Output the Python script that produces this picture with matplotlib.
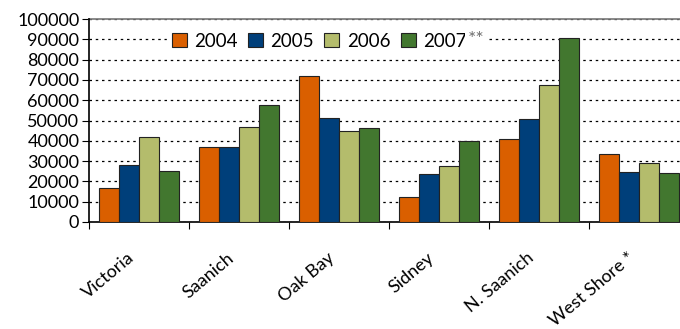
import numpy as np
import matplotlib
matplotlib.use("Agg")
import matplotlib.pyplot as plt
import matplotlib.transforms as mtransforms

plt.rcParams['font.family'] = ['Lato', 'DejaVu Sans']

places = ["Victoria", "Saanich", "Oak Bay", "Sidney", "N. Saanich", "West Shore *"]
years = ["2004", "2005", "2006", "2007"]
v2004 = [16600, 37000, 71800, 12200, 40900, 33500]
v2005 = [28100, 37000, 51100, 23600, 50700, 24600]
v2006 = [42000, 47000, 44800, 27600, 67700, 29200]
v2007 = [25000, 57800, 46500, 40100, 90800, 24300]
yticks = list(range(0, 100001, 10000))

colors = ["#DA5F00", "#003F7A", "#B4BC6C", "#42772F"]

fig = plt.figure(figsize=(6.8, 3.29), dpi=100)
ax = fig.add_axes([89/680, 107/329, 600/680, 203/329])

x = np.arange(len(places))
w = 0.2
bars = []
for i, vals in enumerate([v2004, v2005, v2006, v2007]):
    b = ax.bar(x + (i - 1.5)*w, vals, w, color=colors[i], edgecolor="#222222",
               linewidth=0.8, zorder=3)
    bars.append(b)

ax.set_xlim(-0.5, len(places) - 0.5)
ax.set_ylim(0, 100000)
ax.set_yticks(yticks)
ax.set_yticklabels([str(t) for t in yticks], fontsize=13)
ax.yaxis.grid(True, linestyle=(0, (2, 3)), color="black", linewidth=0.9, zorder=0)

# group boundary ticks, labels at group centres
ax.set_xticks(np.arange(len(places) + 1) - 0.5)
ax.set_xticklabels([])
ax.set_xticks(x, minor=True)
ax.set_xticklabels(places, minor=True, rotation=40, ha="right",
                   rotation_mode="anchor", fontsize=13)
ax.tick_params(axis="x", which="minor", length=0, pad=20)
ax.tick_params(axis="x", which="major", length=5, direction="out")
ax.tick_params(axis="y", length=5, direction="out", pad=2)
shift = mtransforms.ScaledTranslation(-12/100, 0, fig.dpi_scale_trans)
for lab in ax.get_xticklabels(minor=True):
    lab.set_transform(lab.get_transform() + shift)

for s in ["top", "right"]:
    ax.spines[s].set_visible(False)
ax.spines["left"].set_linewidth(1.2)
ax.spines["bottom"].set_linewidth(1.2)
ax.axhline(100000, color="#777777", linewidth=1.2, zorder=2, clip_on=False)

leg = ax.legend(bars, years, ncol=4,
                loc="upper left", bbox_to_anchor=(0.13, 0.955),
                frameon=True, fontsize=13.5, handlelength=0.8, handleheight=0.8,
                handletextpad=0.4, columnspacing=0.55, borderpad=0.25,
                borderaxespad=0)
leg.get_frame().set_edgecolor("white")
leg.get_frame().set_facecolor("white")
leg.get_frame().set_alpha(1)
leg.set_zorder(5)

# gray ** after 2007 on a white patch so the grid line stops there too
fig.canvas.draw()
bb = leg.get_texts()[3].get_window_extent()
fig.text(bb.x1 + 1, bb.y1 + 2, "**", color="#707070", fontsize=14,
         ha="left", va="top", zorder=6, transform=mtransforms.IdentityTransform(),
         bbox=dict(facecolor="white", edgecolor="none", pad=2))

fig.savefig("out.png", dpi=100)
